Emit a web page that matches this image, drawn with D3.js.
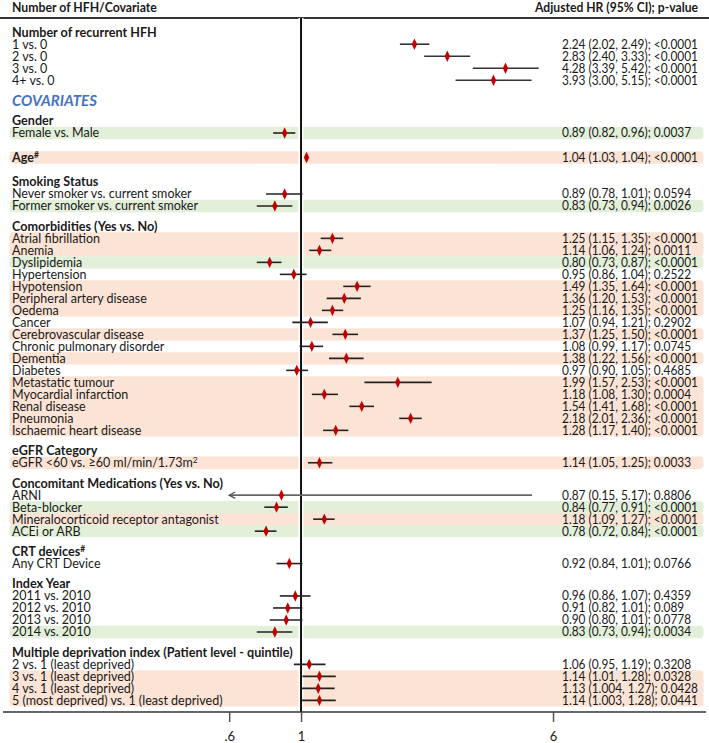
<!DOCTYPE html>
<html><head><meta charset="utf-8">
<script src="https://cdn.jsdelivr.net/npm/d3@7"></script>
<style>body{margin:0;background:#fff} svg{display:block} text{font-family:Lato,"Open Sans",sans-serif}</style>
</head><body><svg id="c" width="709" height="743"></svg>
<script>
// ---------------- data ----------------
const rowLabels = [
  "Number of recurrent HFH","1 vs. 0","2 vs. 0","3 vs. 0","4+ vs. 0",
  "COVARIATES",
  "Gender","Female vs. Male",
  "Age^#",
  "Smoking Status","Never smoker vs. current smoker","Former smoker vs. current smoker",
  "Comorbidities (Yes vs. No)","Atrial fibrillation","Anemia","Dyslipidemia","Hypertension","Hypotension",
  "Peripheral artery disease","Oedema","Cancer","Cerebrovascular disease","Chronic pulmonary disorder",
  "Dementia","Diabetes","Metastatic tumour","Myocardial infarction","Renal disease","Pneumonia","Ischaemic heart disease",
  "eGFR Category","eGFR <60 vs. \u226560 ml/min/1.73m^2",
  "Concomitant Medications (Yes vs. No)","ARNI","Beta-blocker","Mineralocorticoid receptor antagonist","ACEi or ARB",
  "CRT devices^#","Any CRT Device",
  "Index Year","2011 vs. 2010","2012 vs. 2010","2013 vs. 2010","2014 vs. 2010",
  "Multiple deprivation index (Patient level - quintile)","2 vs. 1 (least deprived)","3 vs. 1 (least deprived)",
  "4 vs. 1 (least deprived)","5 (most deprived) vs. 1 (least deprived)"
];
// h = group header, t = section title, b = bold single covariate row, d = data row
const rowKinds = [
  "h","d","d","d","d",
  "t",
  "h","d",
  "b",
  "h","d","d",
  "h","d","d","d","d","d","d","d","d","d","d","d","d","d","d","d","d","d",
  "h","d",
  "h","d","d","d","d",
  "h","d",
  "h","d","d","d","d",
  "h","d","d","d","d"
];
const hr = [
  null,2.24,2.83,4.28,3.93,
  null,
  null,0.89,
  1.04,
  null,0.89,0.83,
  null,1.25,1.14,0.80,0.95,1.49,1.36,1.25,1.07,1.37,1.08,1.38,0.97,1.99,1.18,1.54,2.18,1.28,
  null,1.14,
  null,0.87,0.84,1.18,0.78,
  null,0.92,
  null,0.96,0.91,0.90,0.83,
  null,1.06,1.14,1.13,1.14
];
const lower = [
  null,2.02,2.40,3.39,3.00,
  null,
  null,0.82,
  1.03,
  null,0.78,0.73,
  null,1.15,1.06,0.73,0.86,1.35,1.20,1.16,0.94,1.25,0.99,1.22,0.90,1.57,1.08,1.41,2.01,1.17,
  null,1.05,
  null,0.15,0.77,1.09,0.72,
  null,0.84,
  null,0.86,0.82,0.80,0.73,
  null,0.95,1.01,1.004,1.003
];
const upper = [
  null,2.49,3.33,5.42,5.15,
  null,
  null,0.96,
  1.04,
  null,1.01,0.94,
  null,1.35,1.24,0.87,1.04,1.64,1.53,1.35,1.21,1.50,1.17,1.56,1.05,2.53,1.30,1.68,2.36,1.40,
  null,1.25,
  null,5.17,0.91,1.27,0.84,
  null,1.01,
  null,1.07,1.01,1.01,0.94,
  null,1.19,1.28,1.27,1.28
];
const pValues = [
  null,"<0.0001","<0.0001","<0.0001","<0.0001",
  null,
  null,"0.0037",
  "<0.0001",
  null,"0.0594","0.0026",
  null,"<0.0001","0.0011","<0.0001","0.2522","<0.0001","<0.0001","<0.0001","0.2902","<0.0001","0.0745",
  "<0.0001","0.4685","<0.0001","0.0004","<0.0001","<0.0001","<0.0001",
  null,"0.0033",
  null,"0.8806","<0.0001","<0.0001","<0.0001",
  null,"0.0766",
  null,"0.4359","0.089","0.0778","0.0034",
  null,"0.3208","0.0328","0.0428","0.0441"
];
const tickValues = [0.6, 1, 6];
const tickLabels = [".6", "1", "6"];
const headerLeft = "Number of HFH/Covariate";
const headerRight = "Adjusted HR (95% CI); p-value";

// ---------------- layout ----------------
const W = 709, H = 743;
const svg = d3.select("#c");
const FONT = "Lato, 'Open Sans', sans-serif";
const TXT = "#1a1a1a";
const FS = 12.6;

// horizontal stretch factor so a reference string gets a target width (source font is Calibri-like)
function fitX(str, size, weight, style, target) {
  const t = svg.append("text").attr("font-size", size).attr("font-weight", weight)
    .attr("font-style", style).attr("font-family", FONT).text(str);
  const w = t.node().getComputedTextLength();
  t.remove();
  return w > 0 ? target / w : 1;
}
const sxReg = fitX("Mineralocorticoid receptor antagonist", FS, 400, "normal", 207);
const sxBold = fitX("Concomitant Medications (Yes vs. No)", FS, 700, "normal", 211);
const sxVal = fitX("2.24 (2.02, 2.49); <0.0001", FS, 400, "normal", 136);
const sxHL = fitX(headerLeft, FS, 700, "normal", 145);
const sxHR = fitX(headerRight, FS, 700, "normal", 163);
const sxCov = fitX("COVARIATES", 15, 700, "italic", 85);
const sq = (ax, s) => `translate(${ax},0) scale(${s},1) translate(${-ax},0)`;

// row positions in "row units" (gaps between sections)
const units = [];
let u = 0;
rowKinds.forEach((k, i) => {
  if (i > 0) {
    const prev = rowKinds[i - 1];
    let step = 1;
    if (k === "h" || k === "t") step += (prev === "b" ? 1.04 : 0.7);
    if (k === "b") step += 1.04;
    u += step;
  }
  units.push(u);
});
const y = d3.scaleLinear().domain([0, 1]).range([32.2, 44.2]);
const x = d3.scaleLog().domain([0.6, 6]).range([229.2, 553]).clamp(true);

const rows = rowLabels.map((label, i) => ({
  i, label, kind: rowKinds[i], hr: hr[i], lo: lower[i], hi: upper[i], p: pValues[i], yy: y(units[i])
}));
const covStart = rowKinds.indexOf("t");
rows.forEach(r => {
  r.band = null;
  if (r.i > covStart && r.hr != null) {
    if (r.lo > 1) r.band = "o"; else if (r.hi < 1) r.band = "g";
  }
});
const bandFill = { o: "#fbe4d5", g: "#e2efd9" };

// merge consecutive band rows
const groups = [];
rows.forEach(r => {
  if (!r.band) return;
  const g = groups[groups.length - 1];
  if (g && g.band === r.band && g.last.i === r.i - 1 && Math.abs(r.yy - g.last.yy - 12) < 0.5) {
    g.last = r;
  } else groups.push({ band: r.band, first: r, last: r });
});
const halfH = 6.2;
svg.append("g").selectAll("rect").data(groups).join("rect")
  .attr("x", 9.5).attr("width", 694)
  .attr("y", g => g.first.yy - halfH)
  .attr("height", g => g.last.yy - g.first.yy + 2 * halfH)
  .attr("rx", 4).attr("ry", 4)
  .attr("fill", g => bandFill[g.band]);

// header
svg.append("text").attr("x", 12).attr("y", 8).attr("dy", "0.35em")
  .attr("transform", sq(12, sxHL))
  .attr("font-weight", 700).attr("font-size", FS).attr("fill", TXT).text(headerLeft);
svg.append("text").attr("x", 698).attr("y", 8).attr("dy", "0.35em").attr("text-anchor", "end")
  .attr("transform", sq(698, sxHR))
  .attr("font-weight", 700).attr("font-size", FS).attr("fill", TXT).text(headerRight);
svg.append("line").attr("x1", 0).attr("x2", W).attr("y1", 18).attr("y2", 18)
  .attr("stroke", "#333").attr("stroke-width", 1.8);

// vertical reference line at HR = 1
const axisY = 712;
svg.append("line").attr("x1", x(1)).attr("x2", x(1)).attr("y1", 18).attr("y2", axisY)
  .attr("stroke", "#fff").attr("stroke-width", 5);
svg.append("line").attr("x1", x(1)).attr("x2", x(1)).attr("y1", 18).attr("y2", axisY)
  .attr("stroke", "#111").attr("stroke-width", 2);

// labels
const lab = svg.append("g");
rows.forEach(r => {
  const t = lab.append("text").attr("x", 12).attr("y", r.yy).attr("dy", "0.35em").attr("fill", TXT);
  if (r.kind === "t") {
    t.attr("font-size", 15).attr("font-weight", 700).attr("font-style", "italic").attr("fill", "#4472c4")
      .attr("transform", sq(12, sxCov));
  } else {
    const bold = (r.kind === "h" || r.kind === "b");
    t.attr("font-size", FS).attr("font-weight", bold ? 700 : 400)
      .attr("transform", sq(12, bold ? sxBold : sxReg));
  }
  const parts = r.label.split("^");
  t.append("tspan").text(parts[0]);
  if (parts[1]) t.append("tspan").attr("font-size", 8.5).attr("dy", "-0.45em").text(parts[1]);
});

// CI lines and points
const fmtHR = d3.format(".2f");
const fmtCI = v => Math.abs(v * 100 - Math.round(v * 100)) < 1e-6 ? v.toFixed(2) : v.toFixed(3);
const data = rows.filter(r => r.hr != null);
const marks = svg.append("g");
data.forEach(r => {
  const clipped = r.lo < x.domain()[0];
  const x1 = x(r.lo), x2 = x(r.hi);
  marks.append("line").attr("x1", x1).attr("x2", x2).attr("y1", r.yy).attr("y2", r.yy)
    .attr("stroke", clipped ? "#666" : (r.i < covStart ? "#333" : "#222")).attr("stroke-width", 1.6);
  if (clipped) {
    marks.append("path")
      .attr("d", `M${x1 + 6},${r.yy - 3.2}L${x1},${r.yy}L${x1 + 6},${r.yy + 3.2}`)
      .attr("fill", "none").attr("stroke", "#555").attr("stroke-width", 1.3);
  }
});
marks.selectAll("path.pt").data(data).join("path").attr("class", "pt")
  .attr("transform", r => `translate(${x(r.hr)},${r.yy}) scale(0.85,1.05)`)
  .attr("d", d3.symbol(d3.symbolDiamond, 34))
  .attr("fill", "#c00000");

// right column text
svg.append("g").attr("transform", sq(562, sxVal)).selectAll("text").data(data).join("text")
  .attr("x", 562).attr("y", r => r.yy).attr("dy", "0.35em")
  .attr("font-size", FS).attr("fill", TXT)
  .text(r => `${fmtHR(r.hr)} (${fmtCI(r.lo)}, ${fmtCI(r.hi)}); ${r.p}`);

// x axis
svg.append("line").attr("x1", 3).attr("x2", 706).attr("y1", axisY).attr("y2", axisY)
  .attr("stroke", "#333").attr("stroke-width", 1.6);
const ax = svg.append("g").attr("transform", `translate(0,${axisY})`)
  .call(d3.axisBottom(x).tickValues(tickValues).tickSize(10).tickPadding(10)
    .tickFormat((d, i) => tickLabels[i]));
ax.select(".domain").remove();
ax.selectAll(".tick line").attr("stroke", "#555").attr("stroke-width", 1.5);
ax.selectAll(".tick text").attr("font-family", FONT).attr("font-size", 13).attr("fill", TXT);
</script></body></html>
